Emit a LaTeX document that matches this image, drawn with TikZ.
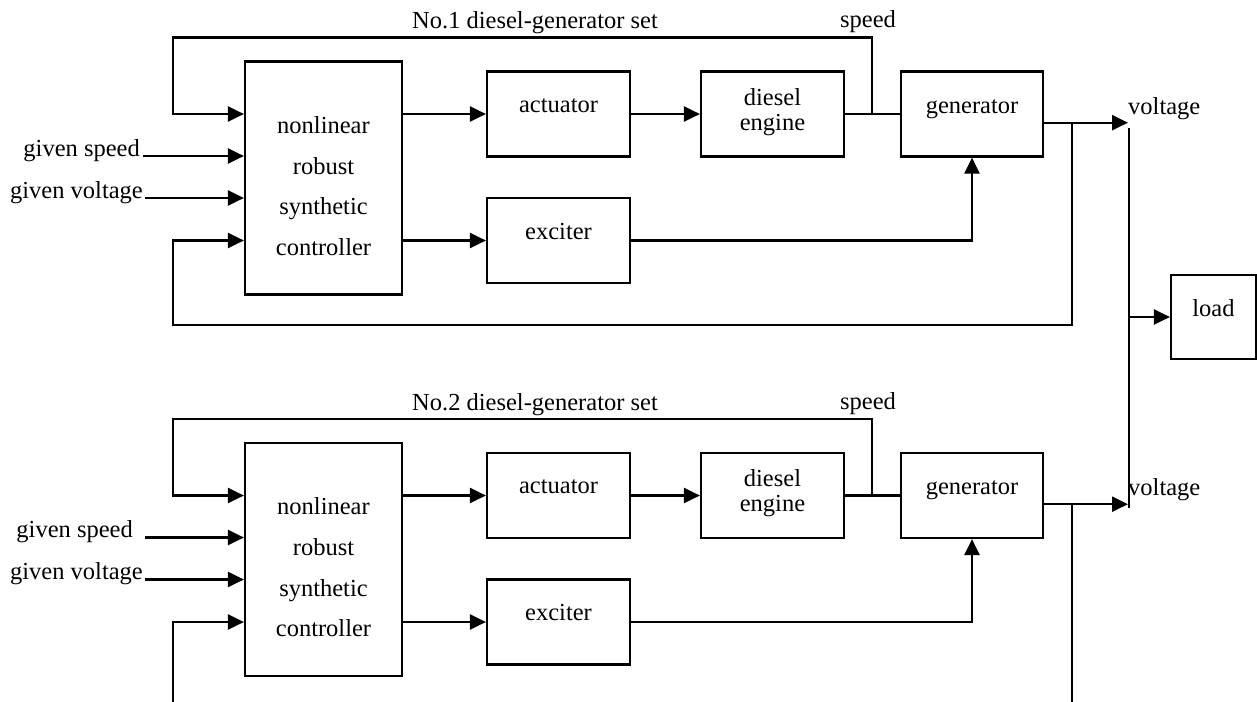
\documentclass[tikz,border=0pt]{standalone}
\usepackage{fontspec}
\setmainfont{Liberation Serif}
\usetikzlibrary{arrows.meta}
\begin{document}
\begin{tikzpicture}[x=1pt,y=-1pt,
  blk/.style={draw, line width=2.2pt, inner sep=0pt},
  lbl/.style={font=\fontsize{24.5}{29}\selectfont, inner sep=0pt, anchor=base},
  wire/.style={line width=2.3pt},
  arr/.style={wire, -{Triangle[length=16pt,width=15pt]}}]
\fill[white] (0,0) rectangle (1257,701);
\useasboundingbox (0,0) rectangle (1257,701);
\foreach \s/\off/\gsx/\gsl in {1/0/140/143, 2/381.5/133/145} {
\begin{scope}[yshift=-\off pt]
  % blocks
  \node[blk, minimum width=157pt, minimum height=233pt] (ctrl\s) at (323.5,178) {};
  \node[blk, minimum width=143pt, minimum height=85pt] (act\s) at (558.5,114) {};
  \node[blk, minimum width=143pt, minimum height=85pt] (exc\s) at (558.5,240.5) {};
  \node[blk, minimum width=143pt, minimum height=85pt] (eng\s) at (772.5,114) {};
  \node[blk, minimum width=142pt, minimum height=85pt] (gen\s) at (972,114) {};
  % texts
  \node[lbl] (t1\s) at (323.5,133) {nonlinear};
  \node[lbl] (t2\s) at (323.5,174) {robust};
  \node[lbl] (t3\s) at (323.5,214.5) {synthetic};
  \node[lbl] (t4\s) at (323.5,255) {controller};
  \node[lbl] (ta\s) at (558.5,112) {actuator};
  \node[lbl] (te\s) at (558.5,239) {exciter};
  \node[lbl] (td\s) at (772.5,105) {diesel};
  \node[lbl] (tn\s) at (772.5,130) {engine};
  \node[lbl] (tg\s) at (972,113) {generator};
  \node[lbl, anchor=base west] (title\s) at (412,29) {No.\s{} diesel-generator set};
  \node[lbl] (tsp\s) at (868,28) {speed};
  \node[lbl, anchor=base west] (tv\s) at (1128,114) {voltage};
  \node[lbl, anchor=base east] (tgs\s) at (\gsx,156) {given speed};
  \node[lbl, anchor=base east] (tgv\s) at (143,198) {given voltage};
  % coordinates
  \coordinate (sp\s) at (872,114);
  \coordinate (top\s) at (173,37.5);
  \coordinate (vj\s) at (1072,122.7);
  \coordinate (vt\s) at (1128,122.7);
  \coordinate (gs\s) at (\gsl,156);
  \coordinate (gv\s) at (145,198);
  % connectors
  \draw[arr] (ctrl\s.east |- act\s.west) -- (act\s.west);
  \draw[arr] (act\s.east) -- (eng\s.west);
  \draw[wire] (eng\s.east) -- (gen\s.west);
  \draw[arr] (sp\s) |- (top\s) |- (ctrl\s.west |- sp\s);
  \draw[arr] (ctrl\s.east |- exc\s.west) -- (exc\s.west);
  \draw[arr] (exc\s.east) -| (gen\s.south);
  \draw[arr] (gs\s) -- (gs\s -| ctrl\s.west);
  \draw[arr] (gv\s) -- (gv\s -| ctrl\s.west);
  \draw[arr] (gen\s.east |- vt\s) -- (vt\s);
\end{scope}
}
% load and bus
\node[blk, minimum width=85pt, minimum height=84pt] (load) at (1213.5,317) {};
\node[lbl] (tload) at (1213.5,316) {load};
\coordinate (bust) at (1129,128);
\coordinate (busb) at (1129,508);
\draw[wire] (bust) -- (busb);
\draw[arr] (bust |- load.west) -- (load.west);
% voltage feedback, set 1
\coordinate (bl1) at (173,325);
\draw[arr] (vj1) |- (bl1) |- (ctrl1.west |- exc1.west);
% voltage feedback, set 2 (cut at lower edge)
\coordinate (be1) at (173,702);
\coordinate (be2) at (1072,702);
\draw[wire] (vj2) -- (be2);
\draw[arr] (be1) |- (ctrl2.west |- exc2.west);
\end{tikzpicture}
\end{document}
